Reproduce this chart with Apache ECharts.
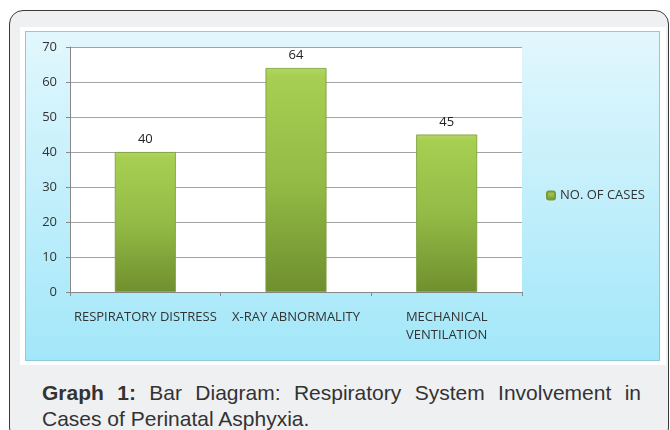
<!DOCTYPE html>
<html>
<head>
<meta charset="utf-8">
<script src="https://cdn.jsdelivr.net/npm/echarts@6/dist/echarts.min.js"></script>
<style>
  body { margin: 0; background: #fff; width: 670px; height: 430px; overflow: hidden; position: relative; }
  .frame {
    position: absolute; left: 9px; top: 10px; width: 658px; height: 430px;
    border: 1.5px solid #3a3a3a; border-radius: 14px; background: #eff0f2;
  }
  .mat { position: absolute; left: 20px; top: 27px; width: 646px; height: 338px; background: #fff; }
  #chart {
    position: absolute; left: 25px; top: 31px; width: 635px; height: 330px;
    border: 1px solid #8acbdc; box-sizing: border-box;
  }
  .caption {
    position: absolute; left: 42px; top: 380px; width: 599px;
    font-family: "Liberation Sans", Arial, sans-serif; font-size: 21px; line-height: 26px;
    color: #333;
  }
  .caption .l1 { text-align: justify; text-align-last: justify; }
</style>
</head>
<body>
<div class="frame"></div>
<div class="mat"></div>
<div id="chart"></div>
<div class="caption">
  <div class="l1"><b>Graph 1:</b> Bar Diagram: Respiratory System Involvement in</div>
  <div>Cases of Perinatal Asphyxia.</div>
</div>
<script>
const categories = ['RESPIRATORY DISTRESS', 'X-RAY ABNORMALITY', 'MECHANICAL\nVENTILATION']
const cases = [40, 64, 45]
const seriesName = 'NO. OF CASES'

const chart = echarts.init(document.getElementById('chart'))
const font = '"Open Sans", sans-serif'

chart.setOption({
  animation: false,
  backgroundColor: new echarts.graphic.LinearGradient(0, 0, 0, 1, [
    { offset: 0, color: '#e2f7fd' },
    { offset: 1, color: '#a2e7f9' }
  ]),
  grid: { left: 44, top: 15, right: 137, bottom: 68, backgroundColor: '#fff', show: true, borderWidth: 0 },
  legend: {
    data: [seriesName],
    left: 515, top: 152,
    itemWidth: 8, itemHeight: 8, itemGap: 4,
    textStyle: { fontFamily: font, fontSize: 13, color: '#333' }
  },
  xAxis: {
    type: 'category',
    data: categories,
    axisLine: { lineStyle: { color: '#888' } },
    axisTick: { show: true, length: 4, lineStyle: { color: '#888' } },
    axisLabel: { fontFamily: font, fontSize: 13, color: '#333', margin: 16, lineHeight: 18, interval: 0 }
  },
  yAxis: {
    type: 'value',
    min: 0, max: 70, interval: 10,
    axisLine: { show: true, lineStyle: { color: '#888' } },
    axisTick: { show: true, length: 4, lineStyle: { color: '#888' } },
    axisLabel: { fontFamily: font, fontSize: 13, color: '#333', margin: 13 },
    splitLine: { lineStyle: { color: '#a3a3a3' } }
  },
  series: [{
    name: seriesName,
    type: 'bar',
    data: cases,
    barWidth: 61,
    itemStyle: {
      color: new echarts.graphic.LinearGradient(0, 0, 0, 1, [
        { offset: 0, color: '#b0d760' },
        { offset: 0.04, color: '#a6cf52' },
        { offset: 0.5, color: '#94bb46' },
        { offset: 1, color: '#6f8f2e' }
      ]),
      borderColor: '#7a9a35', borderWidth: 0.8
    },
    label: { show: true, position: 'top', distance: 6, fontFamily: font, fontSize: 13, color: '#222' }
  }]
})
</script>
</body>
</html>
